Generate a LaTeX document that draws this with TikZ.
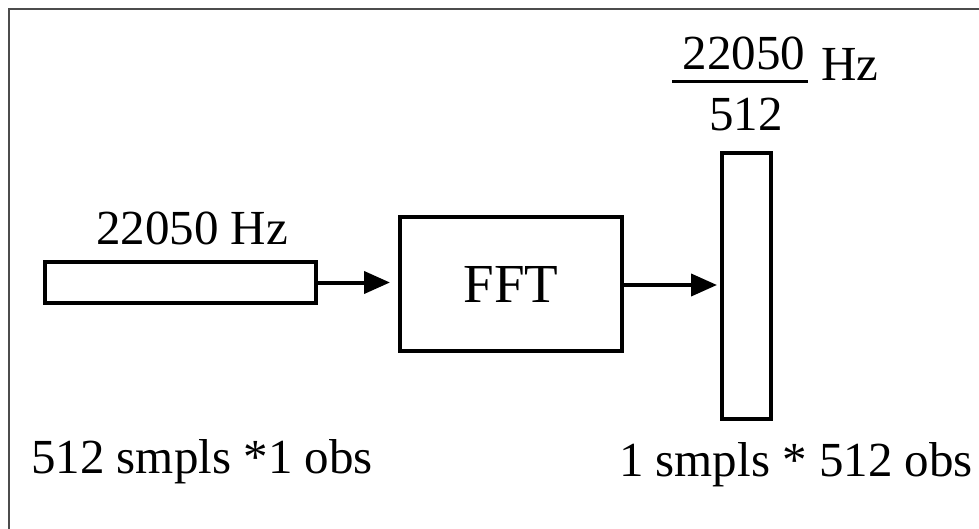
\documentclass[tikz,border=0pt]{standalone}
\usepackage{fontspec}
\setmainfont{Liberation Serif}
\usetikzlibrary{arrows.meta}
\begin{document}
\begin{tikzpicture}[x=1pt,y=-1pt,
  box/.style={draw=black,line width=4pt,minimum width=#1,inner sep=0pt},
  lbl/.style={inner sep=0pt,font=\fontsize{49}{58}\selectfont},
  arr/.style={line width=4pt,-{Triangle[length=26pt,width=22pt]}}]
\useasboundingbox (0,0) rectangle (979,529);
\fill[white] (0,0) rectangle (979,529);
\draw[line width=2.5pt,black!70] (9,529) -- (9,9) -- (979,9);
\node[box=271pt,minimum height=41pt] (in) at (180.5,282.5) {};
\node[box=222pt,minimum height=134pt,inner sep=0pt,font=\fontsize{55}{64}\selectfont] (fft) at (511,284) {FFT};
\node[box=49pt,minimum height=266pt] (out) at (746.5,286) {};
\coordinate (a1) at ([xshift=-8pt]fft.west |- in.east);
\draw[arr] (in.east) -- (a1);
\coordinate (s2) at (fft.east |- 0,285);
\coordinate (a2) at ([xshift=-3pt]out.west |- s2);
\draw[arr] (s2) -- (a2);
\node[lbl] (hz1) at (192,228) {22050 Hz};
\node[lbl] (num) at (744,53) {22050};
\coordinate (b1) at (672,82);
\coordinate (b2) at (808,82);
\draw[line width=3pt] (b1) -- (b2);
\node[lbl] (den) at (746,115) {512};
\node[lbl,anchor=west] (hz2) at (821,64) {Hz};
\node[lbl] (l1) at (202,462) {512 smpls *1 obs};
\node[lbl] (l2) at (796,465) {1 smpls * 512 obs};
\end{tikzpicture}
\end{document}
